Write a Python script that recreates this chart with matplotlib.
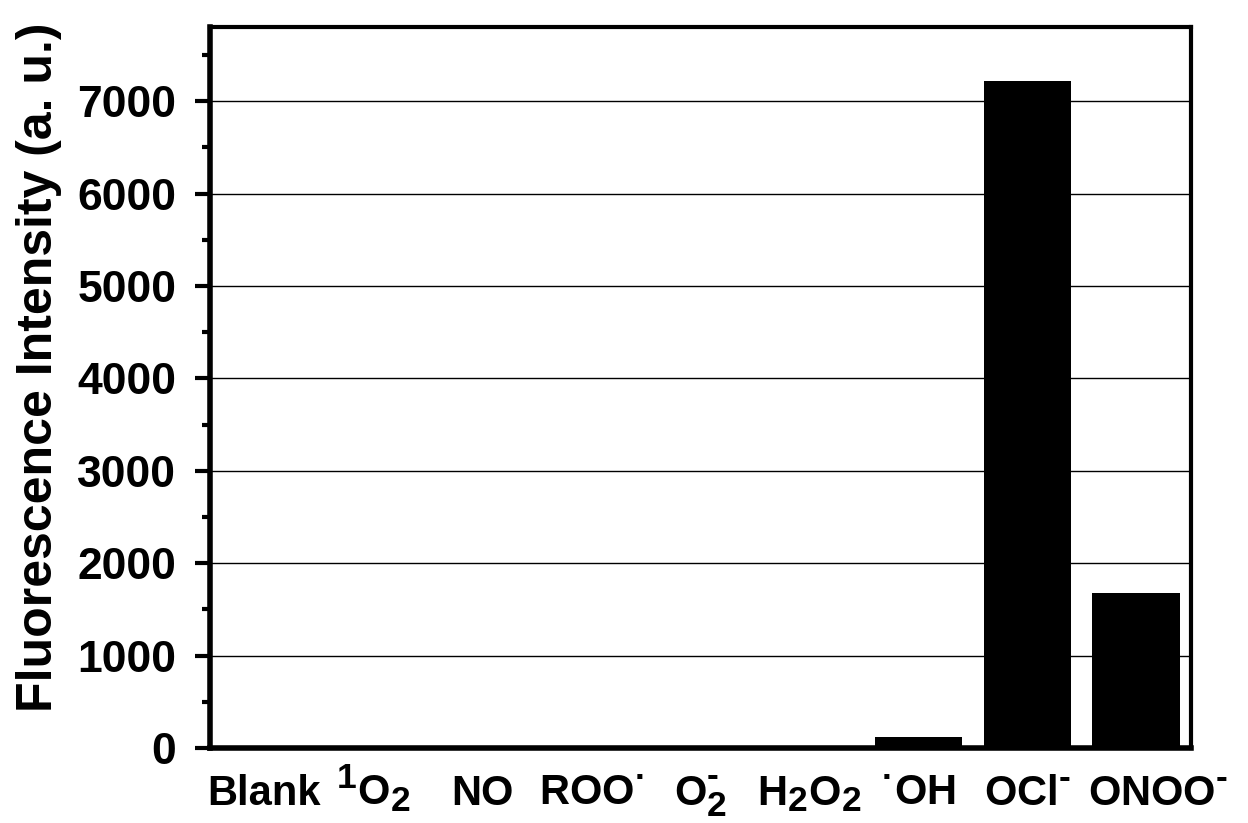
import matplotlib
matplotlib.use('Agg')
import matplotlib.pyplot as plt
import matplotlib._mathtext as mathtext_core
from matplotlib.ticker import MultipleLocator
from matplotlib.transforms import ScaledTranslation

plt.rcParams['font.family'] = 'Liberation Sans'
plt.rcParams['font.weight'] = 'bold'
plt.rcParams['mathtext.fontset'] = 'custom'
plt.rcParams['mathtext.rm'] = 'Liberation Sans:bold'
plt.rcParams['mathtext.it'] = 'Liberation Sans:bold'
plt.rcParams['mathtext.bf'] = 'Liberation Sans:bold'
plt.rcParams['mathtext.default'] = 'bf'
# big sub/superscripts in the species names
mathtext_core.SHRINK_FACTOR = 0.85

# species tested and their emission intensity
species = ['Blank', r'$^1$O$_2$', 'NO', r'ROO$^{·}$', r'O$_2^{\text{-}}$',
           r'H$_2$O$_2$', r'$^{·}$OH', r'OCl$^{\text{-}}$', r'ONOO$^{\text{-}}$']
intensity = [5, 5, 5, 5, 5, 5, 120, 7220, 1680]

fig = plt.figure(figsize=(12.48, 8.23), dpi=100)
ax = fig.add_axes([0.168, 0.091, 0.786, 0.876])

x = range(len(species))
ax.bar(x, intensity, width=0.8, color='black', zorder=3)

ax.set_xlim(-0.5, len(species) - 0.5)
ax.set_ylim(0, 7800)
ax.yaxis.set_major_locator(MultipleLocator(1000))
ax.yaxis.set_minor_locator(MultipleLocator(500))
ax.yaxis.grid(True, which='major', color='black', linewidth=1.0, zorder=1)
ax.set_axisbelow(True)

ax.set_xticks(list(x))
ax.set_xticklabels(species, fontsize=30, fontweight='bold')
ax.tick_params(axis='x', length=0, pad=41)
ax.tick_params(axis='y', which='major', length=11, width=3, labelsize=32, pad=13)
ax.tick_params(axis='y', which='minor', length=6, width=3)
for lbl in ax.get_yticklabels():
    lbl.set_fontweight('bold')
# keep every name on one baseline
xlabels = ax.get_xticklabels()
plt.setp(xlabels, va='baseline')
# last name sits a little to the right so it clears OCl-
xlabels[-1].set_transform(xlabels[-1].get_transform()
                          + ScaledTranslation(0.22, 0, fig.dpi_scale_trans))

for side in ['left', 'bottom']:
    ax.spines[side].set_linewidth(4)
for side in ['top', 'right']:
    ax.spines[side].set_linewidth(3)

ax.set_ylabel('Fluorescence Intensity (a. u.)', fontsize=36, fontweight='bold')
ax.yaxis.set_label_coords(-0.151, 0.528)

fig.savefig('out.png', dpi=100)
